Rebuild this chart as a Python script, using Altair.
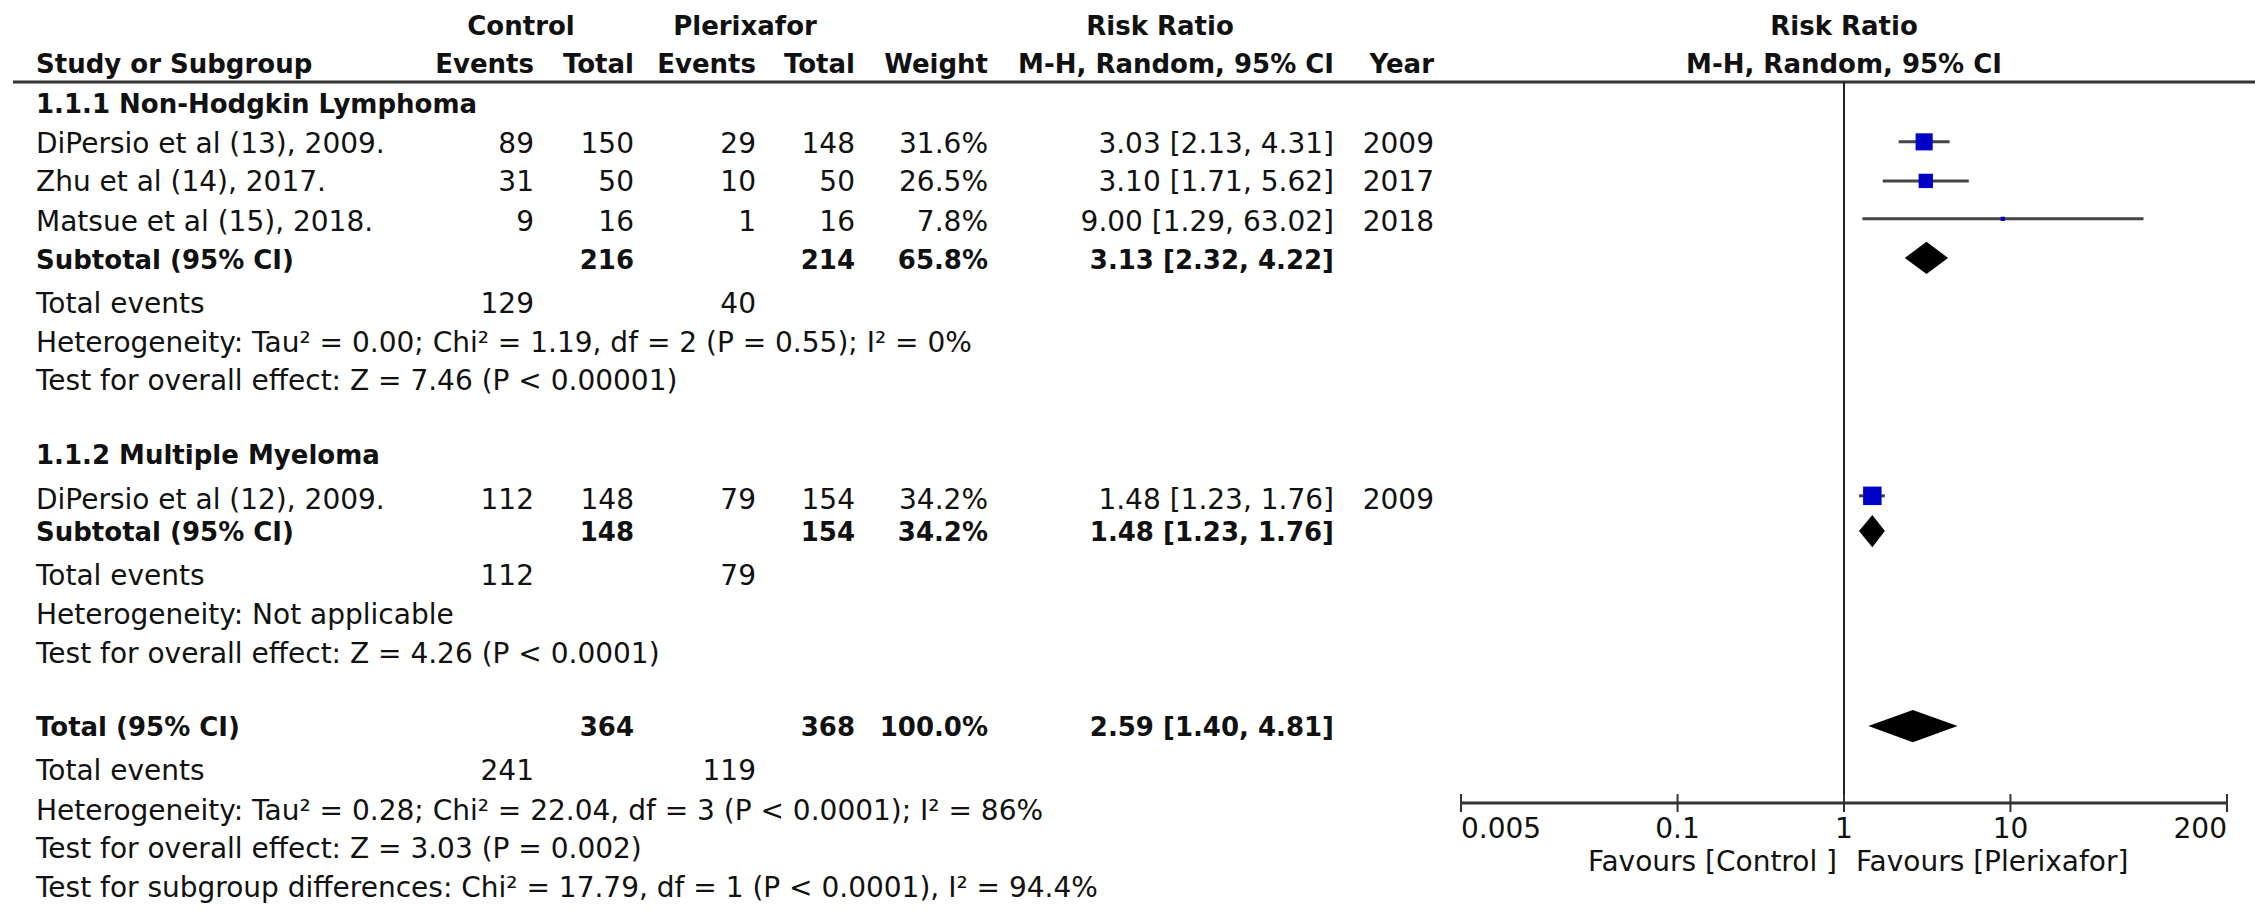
import altair as alt
import pandas as pd

# ---------------- data ----------------
studies = ["DiPersio et al (13), 2009.", "Zhu et al (14), 2017.",
           "Matsue et al (15), 2018.", "DiPersio et al (12), 2009."]
study_group = [0, 0, 0, 1]
ctrl_events = [89, 31, 9, 112]
ctrl_total = [150, 50, 16, 148]
plx_events = [29, 10, 1, 79]
plx_total = [148, 50, 16, 154]
weights = [31.6, 26.5, 7.8, 34.2]
rr = [3.03, 3.10, 9.00, 1.48]
rr_lo = [2.13, 1.71, 1.29, 1.23]
rr_hi = [4.31, 5.62, 63.02, 1.76]
years = [2009, 2017, 2018, 2009]

group_titles = ["1.1.1 Non-Hodgkin Lymphoma", "1.1.2 Multiple Myeloma"]
sub_ctrl_total = [216, 148]
sub_plx_total = [214, 154]
sub_weight = [65.8, 34.2]
sub_rr = [3.13, 1.48]
sub_lo = [2.32, 1.23]
sub_hi = [4.22, 1.76]
sub_ctrl_events = [129, 112]
sub_plx_events = [40, 79]
sub_het = ["Heterogeneity: Tau\u00b2 = 0.00; Chi\u00b2 = 1.19, df = 2 (P = 0.55); I\u00b2 = 0%",
           "Heterogeneity: Not applicable"]
sub_test = ["Test for overall effect: Z = 7.46 (P < 0.00001)",
            "Test for overall effect: Z = 4.26 (P < 0.0001)"]

tot_ctrl_total = 364
tot_plx_total = 368
tot_weight = 100.0
tot_rr, tot_lo, tot_hi = 2.59, 1.40, 4.81
tot_ctrl_events, tot_plx_events = 241, 119
tot_het = "Heterogeneity: Tau\u00b2 = 0.28; Chi\u00b2 = 22.04, df = 3 (P < 0.0001); I\u00b2 = 86%"
tot_test = "Test for overall effect: Z = 3.03 (P = 0.002)"
subgroup_test = "Test for subgroup differences: Chi\u00b2 = 17.79, df = 1 (P < 0.0001), I\u00b2 = 94.4%"

tick_values = [0.005, 0.1, 1, 10, 200]
tick_labels = ["0.005", "0.1", "1", "10", "200"]
favours_left = "Favours [Control ]"
favours_right = "Favours [Plerixafor]"

# ---------------- layout (row units) ----------------
FONT = "DejaVu Sans"
FS_REG, FS_BOLD = 28, 26
W, H = 2252, 898
# text rows
T_H1, T_H2 = 0.05, 1.04
T_GROUP = [2.10, 11.24]
T_STUDY = [3.14, 4.13, 5.16, 12.42]
T_SUB = [6.15, 13.25]
T_SUB_TE = [7.30, 14.40]
T_SUB_HET = [8.32, 15.42]
T_SUB_TEST = [9.31, 16.44]
T_TOT, T_TOT_TE, T_TOT_HET, T_TOT_TEST, T_SUBTEST = 18.34, 19.49, 20.54, 21.53, 22.55
# graphic rows
R_RULE = 1.49
M_STUDY = [3.05, 4.07, 5.06, 12.29]
M_SUB = [6.08, 13.21]
M_TOT = 18.30
R_AXIS, R_TICKLAB, R_FAV = 20.31, 21.01, 21.87
DIAMOND_H = 0.42
TICK_H = 0.235

YS = alt.Scale(domain=[0, 23], range=[17, 898.13], nice=False, zero=False)
XS = alt.Scale(type="log", domain=[0.005, 200], range=[1453, 2219], nice=False)

COLS = {
    "label": (28, "left"),
    "c_ev": (526, "right"),
    "c_tot": (626, "right"),
    "p_ev": (748, "right"),
    "p_tot": (847, "right"),
    "weight": (980, "right"),
    "rr": (1326, "right"),
    "year": (1426, "right"),
    "grp_ctrl": (513, "center"),
    "grp_plx": (737, "center"),
    "grp_rr": (1152, "center"),
}


def fmt_rr(e, l, h):
    return f"{e:.2f} [{l:.2f}, {h:.2f}]"


cells = []


def add(row, col, text, bold):
    cells.append({"row": row, "col": col, "text": str(text), "bold": bold})


add(T_H1, "grp_ctrl", "Control", True)
add(T_H1, "grp_plx", "Plerixafor", True)
add(T_H1, "grp_rr", "Risk Ratio", True)
for col, t in [("label", "Study or Subgroup"), ("c_ev", "Events"), ("c_tot", "Total"),
               ("p_ev", "Events"), ("p_tot", "Total"), ("weight", "Weight"),
               ("rr", "M-H, Random, 95% CI"), ("year", "Year")]:
    add(T_H2, col, t, True)

for g in range(2):
    add(T_GROUP[g], "label", group_titles[g], True)
    add(T_SUB[g], "label", "Subtotal (95% CI)", True)
    add(T_SUB[g], "c_tot", sub_ctrl_total[g], True)
    add(T_SUB[g], "p_tot", sub_plx_total[g], True)
    add(T_SUB[g], "weight", f"{sub_weight[g]:.1f}%", True)
    add(T_SUB[g], "rr", fmt_rr(sub_rr[g], sub_lo[g], sub_hi[g]), True)
    add(T_SUB_TE[g], "label", "Total events", False)
    add(T_SUB_TE[g], "c_ev", sub_ctrl_events[g], False)
    add(T_SUB_TE[g], "p_ev", sub_plx_events[g], False)
    add(T_SUB_HET[g], "label", sub_het[g], False)
    add(T_SUB_TEST[g], "label", sub_test[g], False)

for i in range(len(studies)):
    r = T_STUDY[i]
    add(r, "label", studies[i], False)
    add(r, "c_ev", ctrl_events[i], False)
    add(r, "c_tot", ctrl_total[i], False)
    add(r, "p_ev", plx_events[i], False)
    add(r, "p_tot", plx_total[i], False)
    add(r, "weight", f"{weights[i]:.1f}%", False)
    add(r, "rr", fmt_rr(rr[i], rr_lo[i], rr_hi[i]), False)
    add(r, "year", years[i], False)

add(T_TOT, "label", "Total (95% CI)", True)
add(T_TOT, "c_tot", tot_ctrl_total, True)
add(T_TOT, "p_tot", tot_plx_total, True)
add(T_TOT, "weight", f"{tot_weight:.1f}%", True)
add(T_TOT, "rr", fmt_rr(tot_rr, tot_lo, tot_hi), True)
add(T_TOT_TE, "label", "Total events", False)
add(T_TOT_TE, "c_ev", tot_ctrl_events, False)
add(T_TOT_TE, "p_ev", tot_plx_events, False)
add(T_TOT_HET, "label", tot_het, False)
add(T_TOT_TEST, "label", tot_test, False)
add(T_SUBTEST, "label", subgroup_test, False)

cdf = pd.DataFrame(cells)
Y = alt.Y("row:Q", scale=YS, axis=None)

layers = []

# header rule
layers.append(
    alt.Chart(pd.DataFrame({"row": [R_RULE]})).mark_rule(color="#333", strokeWidth=3)
    .encode(x=alt.value(5), x2=alt.value(2247), y=Y)
)
# line of no effect
layers.append(
    alt.Chart(pd.DataFrame({"x": [1], "row": [R_RULE], "row2": [R_AXIS]}))
    .mark_rule(color="#222", strokeWidth=2)
    .encode(x=alt.X("x:Q", scale=XS, axis=None), y=Y, y2="row2:Q")
)

# table text
for col, (xpx, align) in COLS.items():
    for bold in (False, True):
        sub = cdf[(cdf["col"] == col) & (cdf["bold"] == bold)]
        if sub.empty:
            continue
        layers.append(
            alt.Chart(sub).mark_text(
                align=align, baseline="middle", font=FONT,
                fontSize=FS_BOLD if bold else FS_REG,
                fontWeight="bold" if bold else "normal", color="#111")
            .encode(x=alt.value(xpx), y=Y, text="text:N")
        )

# forest headers
layers.append(
    alt.Chart(pd.DataFrame({"x": [1, 1], "row": [T_H1, T_H2],
                            "text": ["Risk Ratio", "M-H, Random, 95% CI"]}))
    .mark_text(align="center", baseline="middle", font=FONT, fontSize=FS_BOLD,
               fontWeight="bold", color="#111")
    .encode(x=alt.X("x:Q", scale=XS, axis=None), y=Y, text="text:N")
)

# studies
sdf = pd.DataFrame({"row": M_STUDY, "rr": rr, "lo": rr_lo, "hi": rr_hi, "weight": weights})
layers.append(
    alt.Chart(sdf).mark_rule(color="#444", strokeWidth=3)
    .encode(x=alt.X("lo:Q", scale=XS, axis=None), x2="hi:Q", y=Y)
)
layers.append(
    alt.Chart(sdf).mark_square(filled=True, color="#0000C8", opacity=1)
    .encode(x=alt.X("rr:Q", scale=XS, axis=None), y=Y,
            size=alt.Size("weight:Q", legend=None,
                          scale=alt.Scale(type="pow", exponent=2, domain=[0, 34.2], range=[0, 342])))
)

# diamonds
drows = []
summ = [(M_SUB[0], sub_rr[0], sub_lo[0], sub_hi[0]),
        (M_SUB[1], sub_rr[1], sub_lo[1], sub_hi[1]),
        (M_TOT, tot_rr, tot_lo, tot_hi)]
for k, (r, e, l, h) in enumerate(summ):
    drows.append({"id": k, "x": l, "row": r, "row2": r})
    drows.append({"id": k, "x": e, "row": r - DIAMOND_H, "row2": r + DIAMOND_H})
    drows.append({"id": k, "x": h, "row": r, "row2": r})
layers.append(
    alt.Chart(pd.DataFrame(drows)).mark_area(color="black", orient="vertical", opacity=1)
    .encode(x=alt.X("x:Q", scale=XS, axis=None), y=Y, y2="row2:Q", detail="id:N")
)

# axis
layers.append(
    alt.Chart(pd.DataFrame({"x": [tick_values[0]], "x2": [tick_values[-1]], "row": [R_AXIS]}))
    .mark_rule(color="#333", strokeWidth=3)
    .encode(x=alt.X("x:Q", scale=XS, axis=None), x2="x2:Q", y=Y)
)
tdf = pd.DataFrame({"x": tick_values, "label": tick_labels,
                    "row": [R_AXIS - TICK_H] * 5, "row2": [R_AXIS + TICK_H] * 5,
                    "lrow": [R_TICKLAB] * 5, "idx": list(range(5))})
layers.append(
    alt.Chart(tdf).mark_rule(color="#333", strokeWidth=2)
    .encode(x=alt.X("x:Q", scale=XS, axis=None), y=Y, y2="row2:Q")
)
for align, cond in [("left", "datum.idx == 0"), ("center", "datum.idx > 0 && datum.idx < 4"),
                    ("right", "datum.idx == 4")]:
    layers.append(
        alt.Chart(tdf).transform_filter(cond)
        .mark_text(align=align, baseline="middle", font=FONT, fontSize=FS_REG, color="#111")
        .encode(x=alt.X("x:Q", scale=XS, axis=None),
                y=alt.Y("lrow:Q", scale=YS, axis=None), text="label:N")
    )

fdf = pd.DataFrame({"x": [1], "row": [R_FAV], "l": [favours_left], "r": [favours_right]})
layers.append(
    alt.Chart(fdf).mark_text(align="right", baseline="middle", dx=-7, font=FONT,
                             fontSize=FS_REG, color="#111")
    .encode(x=alt.X("x:Q", scale=XS, axis=None), y=Y, text="l:N")
)
layers.append(
    alt.Chart(fdf).mark_text(align="left", baseline="middle", dx=12, font=FONT,
                             fontSize=FS_REG, color="#111")
    .encode(x=alt.X("x:Q", scale=XS, axis=None), y=Y, text="r:N")
)

chart = (
    alt.layer(*layers)
    .properties(width=W, height=H, autosize=alt.AutoSizeParams(type="none"), padding=0,
                background="white")
    .configure_view(stroke=None)
)

chart.save("out.html", embed_options={"renderer": "svg", "actions": False})
